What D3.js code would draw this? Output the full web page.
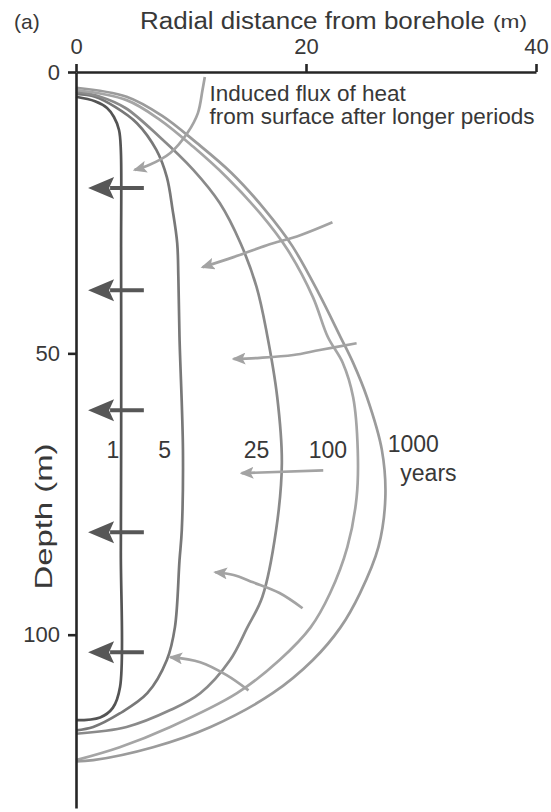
<!DOCTYPE html>
<html>
<head>
<meta charset="utf-8">
<script src="https://cdn.jsdelivr.net/npm/d3@7"></script>
<style>
body { margin: 0; background: #fff; }
text { font-family: "Liberation Sans", Arial, Helvetica, sans-serif; fill: #383838; }
</style>
</head>
<body>
<script>
// isotherm outlines after 1 .. 1000 years: [radial distance (m), depth (m)]
const ages = ["1", "5", "25", "100", "1000"];
const curve_1 = [[0,4.4],[1.65,5.2],[2.7,6.4],[3.3,8.0],[3.74,10.3],[3.9,13.9],[3.92,31.6],[3.93,58.3],[3.9,85],[3.83,109.3],[3.2,113],[2.1,114.7],[0,115.2]];
const curve_5 = [[0,3.9],[1.65,4.4],[3.4,6.2],[5.3,9.1],[7.0,13.9],[7.9,18.7],[8.4,24.5],[8.8,30.4],[8.9,36.4],[9.0,47.1],[9.3,67.2],[9.2,81.4],[9.0,86.8],[8.6,98.7],[7.9,104.5],[6.2,110.4],[3.8,114],[1.5,116.4],[0,117]];
const curve_25 = [[0,3.5],[2.1,4.4],[4.3,6.4],[7.3,11.6],[10.2,17.4],[12.5,23.3],[14.3,30.4],[15.7,38.2],[16.6,46.5],[17.5,57.8],[17.9,69.5],[17.4,81.4],[16.2,93.3],[14.9,98.7],[13.4,104.5],[10.8,110.4],[8.2,113.4],[4.4,116.4],[0,117.6]];
const curve_100 = [[0,3.2],[4.4,5.0],[7.3,8.5],[10.2,13.3],[13.1,18.7],[16.0,25.1],[18.4,31.6],[20.6,40.0],[21.9,47.1],[23.2,51.7],[24.1,57.8],[24.5,67.2],[24.4,75.6],[23.6,84.4],[22.1,92.6],[20.4,98.7],[17.7,104.5],[14.0,110.4],[8.2,116.4],[3.8,120],[0,122.3]];
const curve_1000 = [[0,2.8],[4.4,4.4],[7.5,7.8],[10.5,12.6],[13.5,17.9],[16.4,24.4],[18.8,30.9],[21.1,39.3],[23.0,47.1],[24.1,51.7],[25.3,57.8],[26.6,67.2],[26.9,75.6],[26.3,84.4],[24.7,92.6],[23.0,98.7],[20.6,104.5],[17.1,110.4],[11.7,116.4],[6.7,120],[1.5,122.3],[0,122.5]];
const curves = [curve_1, curve_5, curve_25, curve_100, curve_1000];

const radialTicks = [0, 20, 40];
const depthTicks = [0, 50, 100];
const depthMax = 130.8;

// heat pulled toward the borehole (dark arrows), depth and radial extent
const pumpDepths = [20.6, 38.8, 60.1, 81.8, 103.1];
const pumpFrom = 5.9;
const pumpTo = 1.05;

// induced heat flux arrows (light), each from tail to tip
const fluxArrows = [
    [[11.2,0.9],[11.0,3.2],[10.6,7.3],[9.7,10.8],[8.2,14.4],[6.4,16.5],[5.1,17.4]],
    [[22.3,26.7],[19.5,29.0],[16.6,30.8],[13.7,32.9],[11.0,34.7]],
    [[24.4,48.2],[21.2,49.4],[18.9,50.3],[16.0,50.8],[13.7,51.0]],
    [[21.5,70.8],[14.4,71.3]],
    [[19.7,95.3],[17.7,92.6],[15.4,90.7],[13.7,89.4],[12.1,88.9]],
    [[15.0,109.9],[13.1,107.2],[10.8,104.9],[8.2,104.0]]
];

const width = 551;
const height = 812;

const svg = d3.select("body").append("svg")
    .attr("width", width)
    .attr("height", height);

const x = d3.scaleLinear().domain([0, 40]).range([76, 536]);
const y = d3.scaleLinear().domain([0, depthMax]).range([72, 808]);

const defs = svg.append("defs");
defs.append("marker")
    .attr("id", "head-light")
    .attr("viewBox", "0 0 14 12")
    .attr("refX", 12)
    .attr("refY", 6)
    .attr("markerWidth", 14)
    .attr("markerHeight", 12)
    .attr("markerUnits", "userSpaceOnUse")
    .attr("orient", "auto")
    .append("path")
    .attr("d", "M0,0L14,6L0,12L3,6Z")
    .attr("fill", "#a3a3a3");

// isotherm curves
const colors = ["#545454", "#787878", "#8a8a8a", "#a5a5a5", "#9b9b9b"];
const line = d3.line()
    .x(d => x(d[0]))
    .y(d => y(d[1]))
    .curve(d3.curveCatmullRom.alpha(0.5));

svg.selectAll(".curve")
    .data(curves)
    .enter()
    .append("path")
    .attr("class", "curve")
    .attr("d", line)
    .attr("fill", "none")
    .attr("stroke", (d, i) => colors[i])
    .attr("stroke-width", 2.7);

// light flux arrows
svg.selectAll(".flux")
    .data(fluxArrows)
    .enter()
    .append("path")
    .attr("class", "flux")
    .attr("d", line)
    .attr("fill", "none")
    .attr("stroke", "#a3a3a3")
    .attr("stroke-width", 2.7)
    .attr("marker-end", "url(#head-light)");

// dark arrows pointing at the borehole
const headLen = 26;
const pump = svg.selectAll(".pump")
    .data(pumpDepths)
    .enter()
    .append("g")
    .attr("class", "pump");

pump.append("line")
    .attr("x1", x(pumpFrom))
    .attr("x2", x(pumpTo) + headLen - 4)
    .attr("y1", d => y(d))
    .attr("y2", d => y(d))
    .attr("stroke", "#575757")
    .attr("stroke-width", 4);

pump.append("path")
    .attr("d", d => {
        const tx = x(pumpTo), ty = y(d);
        return `M${tx},${ty}L${tx + headLen},${ty - 11}L${tx + headLen - 5},${ty}L${tx + headLen},${ty + 11}Z`;
    })
    .attr("fill", "#575757");

// axes
const axisColor = "#262626";
const topAxis = svg.append("g")
    .attr("transform", `translate(0,${y(0)})`)
    .call(d3.axisTop(x).tickValues(radialTicks).tickSize(8).tickSizeOuter(0).tickPadding(10));

const leftAxis = svg.append("g")
    .attr("transform", `translate(${x(0)},0)`)
    .call(d3.axisLeft(y).tickValues(depthTicks).tickSize(8).tickSizeOuter(0).tickPadding(8));

[topAxis, leftAxis].forEach(g => {
    g.attr("font-size", 22).attr("font-family", null);
    g.select(".domain").attr("stroke", axisColor).attr("stroke-width", 2.6);
    g.selectAll(".tick line").attr("stroke", axisColor).attr("stroke-width", 2.6);
    g.selectAll(".tick text").attr("fill", "#383838");
});

// titles
svg.append("text")
    .attr("x", 14)
    .attr("y", 29)
    .attr("font-size", 21)
    .text("(a)");

svg.append("text")
    .attr("x", 140)
    .attr("y", 29)
    .attr("font-size", 23)
    .attr("textLength", 345)
    .attr("lengthAdjust", "spacingAndGlyphs")
    .text("Radial distance from borehole");

svg.append("text")
    .attr("x", 493)
    .attr("y", 28)
    .attr("font-size", 18)
    .attr("textLength", 34)
    .attr("lengthAdjust", "spacingAndGlyphs")
    .text("(m)");

svg.append("text")
    .attr("transform", `translate(52,${y(79)}) rotate(-90)`)
    .attr("text-anchor", "middle")
    .attr("font-size", 24)
    .attr("textLength", 146)
    .attr("lengthAdjust", "spacingAndGlyphs")
    .text("Depth (m)");

// annotation
svg.append("text")
    .attr("x", x(11.6))
    .attr("y", y(5.2))
    .attr("font-size", 22.5)
    .text("Induced flux of heat");

svg.append("text")
    .attr("x", x(11.6))
    .attr("y", y(9.3))
    .attr("font-size", 22.5)
    .text("from surface after longer periods");

// curve labels
const labelSpots = [[3.2, 68.6], [7.7, 68.6], [15.7, 68.6], [21.9, 68.6]];
svg.selectAll(".age")
    .data(ages.slice(0, 4))
    .enter()
    .append("text")
    .attr("class", "age")
    .attr("x", (d, i) => x(labelSpots[i][0]))
    .attr("y", (d, i) => y(labelSpots[i][1]))
    .attr("text-anchor", "middle")
    .attr("font-size", 23)
    .text(d => d);

svg.append("text")
    .attr("x", x(27.1))
    .attr("y", y(67.6))
    .attr("font-size", 23)
    .text(ages[4]);

svg.append("text")
    .attr("x", x(28.2))
    .attr("y", y(72.6))
    .attr("font-size", 23)
    .text("years");
</script>
</body>
</html>
